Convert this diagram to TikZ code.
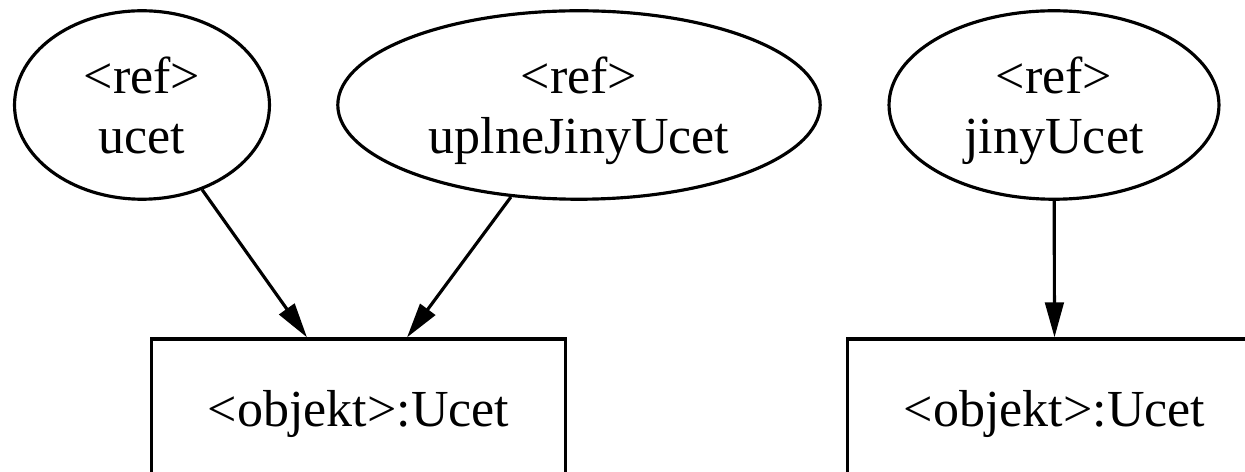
\documentclass[tikz,border=0pt]{standalone}
\usepackage{fontspec}
\setmainfont{Liberation Serif}
\usepackage{tikz}
\usetikzlibrary{shapes,arrows,arrows.meta,positioning}

\tikzset{
    refnode/.style={
        draw,
        ellipse,
        line width=1.8pt,
        align=center,
        inner sep=0pt,
        minimum height=3.77cm,
        text depth=0pt,
        font=\fontsize{29.6}{34.1}\selectfont
    },
    objnode/.style={
        draw,
        rectangle,
        line width=1.8pt,
        minimum width=8.27cm,
        minimum height=2.76cm,
        text height=24pt,
        text depth=2.4pt,
        font=\fontsize{29.6}{34.1}\selectfont
    },
    refedge/.style={
        line width=1.8pt,
        -{Triangle[length=0.7cm,width=0.37cm]}
    }
}

\begin{document}
\begin{tikzpicture}[x=0.02cm,y=-0.02cm]
                \clip (0,0) rectangle (1245,472);

                % references
                \node[refnode, minimum width=5.1cm] (ucet) at (142,105) {<ref>\\ucet};
                \node[refnode, minimum width=9.65cm] (uplne) at (579,105) {<ref>\\uplneJinyUcet};
                \node[refnode, minimum width=6.6cm] (jiny) at (1054,105) {<ref>\\jinyUcet};

                % objects
                \node[objnode] (obj1) at (358.5,408) {<objekt>:Ucet};
                \node[objnode] (obj2) at (1054.5,408) {<objekt>:Ucet};

                \draw[refedge] (ucet) -- ([xshift=-1.03cm]obj1.north);
                \draw[refedge] (uplne) -- ([xshift=0.97cm]obj1.north);
                \draw[refedge] (jiny) -- (obj2.north);
\end{tikzpicture}
\end{document}
